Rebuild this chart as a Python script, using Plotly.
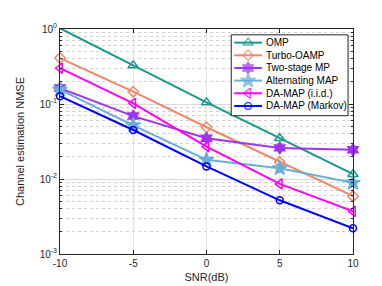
import plotly.graph_objects as go

snr = [-10, -5, 0, 5, 10]
omp = [1.02, 0.327, 0.105, 0.035, 0.0116]
turbo_oamp = [0.41, 0.146, 0.049, 0.0168, 0.0059]
two_stage_mp = [0.163, 0.069, 0.035, 0.026, 0.0245]
alternating_map = [0.155, 0.052, 0.018, 0.0139, 0.0089]
da_map_iid = [0.30, 0.102, 0.027, 0.0086, 0.0037]
da_map_markov = [0.127, 0.045, 0.0147, 0.0052, 0.0022]

names = ["OMP", "Turbo-OAMP", "Two-stage MP", "Alternating MAP", "DA-MAP (i.i.d.)", "DA-MAP (Markov)"]
values = [omp, turbo_oamp, two_stage_mp, alternating_map, da_map_iid, da_map_markov]
colors = ["#1a988c", "#ee8866", "#a033ee", "#6aaed6", "#ff00ff", "#0000ff"]
symbols = ["triangle-up-open", "diamond-open", "hexagram", "star", "triangle-left-open", "circle-open"]
sizes = [9, 8, 9, 11, 9, 7]

fig = go.Figure()
for name, vals, col, sym, sz in zip(names, values, colors, symbols, sizes):
    fig.add_trace(go.Scatter(
        x=snr, y=vals, name=name, mode="lines+markers", cliponaxis=False,
        line=dict(color=col, width=2),
        marker=dict(symbol=sym, size=sz, color=col, line=dict(color=col, width=1.5)),
        showlegend=False,
    ))

# ---- compact legend drawn in an overlay (0..1 box of the plot area) ----
W, H = 296.0, 231.0  # plot area size in px
def fx(px):
    return (px - 49) / W
def fy(py):
    return (252 - py) / H

bx0, bx1, by0, by1 = fx(222), fx(340), fy(110), fy(27)
fig.add_trace(go.Scatter(
    x=[bx0, bx1, bx1, bx0, bx0], y=[by0, by0, by1, by1, by0],
    xaxis="x2", yaxis="y2", mode="lines", fill="toself", fillcolor="white",
    line=dict(color="#262626", width=1), hoverinfo="skip", showlegend=False,
))
annotations = []
for i, (name, col, sym, sz) in enumerate(zip(names, colors, symbols, sizes)):
    yy = fy(35 + 13 * i)
    fig.add_trace(go.Scatter(
        x=[fx(225), fx(239), fx(253)], y=[yy, yy, yy],
        xaxis="x2", yaxis="y2", mode="lines+markers", cliponaxis=False,
        line=dict(color=col, width=2),
        marker=dict(symbol=sym, size=[0, sz, 0], color=col, line=dict(color=col, width=1.5)),
        hoverinfo="skip", showlegend=False,
    ))
    annotations.append(dict(
        x=fx(255), y=yy, xref="x2", yref="y2", text=name, showarrow=False,
        xanchor="left", yanchor="middle", font=dict(size=10, color="#000000"),
    ))

fig.update_layout(
    width=382, height=286,
    margin=dict(l=49, r=37, t=21, b=34),
    paper_bgcolor="white", plot_bgcolor="white",
    font=dict(family="Liberation Sans, Arial, sans-serif", size=10, color="#262626"),
    showlegend=False,
    annotations=annotations,
    xaxis2=dict(overlaying="x", range=[0, 1], visible=False, showgrid=False, fixedrange=True),
    yaxis2=dict(overlaying="y", range=[0, 1], visible=False, showgrid=False, fixedrange=True),
)
fig.update_layout(xaxis=dict(
    range=[-10, 10], tickvals=snr, ticktext=["-10", "-5", "0", "5", "10"],
    showgrid=True, gridcolor="#e3e3e3", gridwidth=1,
    showline=True, linecolor="#262626", linewidth=1, mirror="ticks",
    ticks="inside", ticklen=4, tickcolor="#262626",
    title=dict(text="SNR(dB)", font=dict(size=11), standoff=5),
    zeroline=False,
), yaxis=dict(
    type="log", range=[-3, 0],
    tickvals=[1e-3, 1e-2, 1e-1, 1],
    ticktext=["10<sup>-3</sup>", "10<sup>-2</sup>", "10<sup>-1</sup>", "10<sup>0</sup>"],
    showgrid=True, gridcolor="#dadada", gridwidth=1,
    showline=True, linecolor="#262626", linewidth=1, mirror="ticks",
    ticks="inside", ticklen=4, tickcolor="#262626",
    minor=dict(showgrid=True, gridcolor="#d0d0d0", griddash="dot", ticks="inside",
               ticklen=2, tickcolor="#262626", dtick="D1"),
    title=dict(text="Channel estimation NMSE", font=dict(size=11), standoff=12),
    zeroline=False,
))

fig.write_html("out.html")
